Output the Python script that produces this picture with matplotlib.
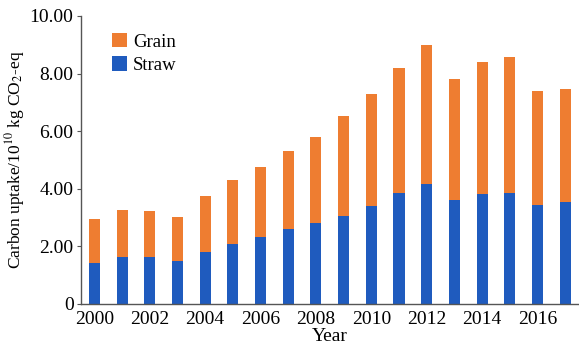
import numpy as np
import matplotlib.pyplot as plt

# carbon uptake per year, 10^10 kg CO2-eq
years = list(range(2000, 2018))
straw = [1.44, 1.62, 1.62, 1.49, 1.81, 2.08, 2.32, 2.61, 2.80, 3.06,
         3.42, 3.86, 4.16, 3.62, 3.83, 3.86, 3.43, 3.53]
total = [2.96, 3.27, 3.23, 3.03, 3.76, 4.29, 4.77, 5.31, 5.79, 6.52,
         7.29, 8.20, 9.00, 7.82, 8.42, 8.59, 7.40, 7.46]
grain = [t - s for t, s in zip(total, straw)]

plt.rcParams['font.family'] = ['Liberation Serif', 'DejaVu Serif']
plt.rcParams['mathtext.fontset'] = 'stix'

fig = plt.figure(figsize=(5.79, 3.51), dpi=100)
ax = fig.add_axes([80.5 / 579, 1 - 304 / 351, 1 - 80.5 / 579, 288 / 351])

ax.bar(years, straw, width=0.4, color='#1F5BBE', label='Straw')
ax.bar(years, grain, width=0.4, bottom=straw, color='#EE7D31', label='Grain')

ax.set_xlim(1999.5, 2017.5)
ax.set_ylim(0, 10)
ax.set_xticks(np.arange(2000, 2017, 2))
ax.set_yticks(np.arange(0, 10.1, 2))
ax.set_yticklabels(['0', '2.00', '4.00', '6.00', '8.00', '10.00'])
ax.tick_params(axis='y', direction='out', length=3, width=0.8, color='#555555',
               labelsize=14, pad=2)
ax.tick_params(axis='x', length=0, labelsize=14, pad=5)

for side in ['top', 'right']:
    ax.spines[side].set_visible(False)
for side in ['left', 'bottom']:
    ax.spines[side].set_color('#555555')
    ax.spines[side].set_linewidth(1.0)

ax.set_xlabel('Year', fontsize=14, labelpad=0)
ax.set_ylabel('Carbon uptake/10$^{10}$ kg CO$_2$-eq', fontsize=12.5, labelpad=2)

# legend: Grain above Straw, no frame
h, l = ax.get_legend_handles_labels()
ax.legend(h[::-1], l[::-1], loc='upper left', bbox_to_anchor=(0.03, 1.0),
          frameon=False, fontsize=13.5, handlelength=0.8, handleheight=0.8,
          handletextpad=0.3, labelspacing=0.3)

fig.savefig('out.png', dpi=100)
